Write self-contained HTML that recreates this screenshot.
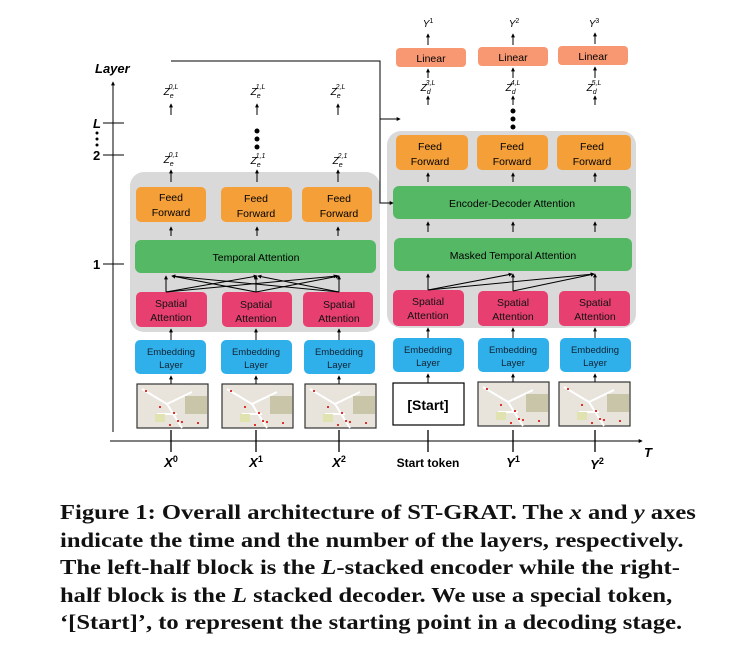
<!DOCTYPE html>
<html><head><style>
body{margin:0;width:733px;height:657px;background:#fff;overflow:hidden;font-family:"Liberation Sans",sans-serif}
svg text{font-family:"Liberation Sans",sans-serif}
.cap{position:absolute;left:60px;top:499px;font-family:"Liberation Serif",serif;font-weight:bold;font-size:21px;line-height:27.6px;color:#111;white-space:nowrap;transform:scaleX(1.17);transform-origin:0 0}
</style></head><body>
<svg width="733" height="490" style="position:absolute;left:0;top:0" font-size="10.5">
<defs><marker id="a" viewBox="0 0 6 6" refX="5" refY="3" markerWidth="4" markerHeight="4" orient="auto"><path d="M0,0L6,3L0,6z" fill="#000"/></marker>
<g id="map"><rect width="71" height="44" fill="#e8e4dc" stroke="#333" stroke-width="1.2"/><path d="M5,5L30,20L45,44M30,20L55,8M20,30L40,30" stroke="#fff" stroke-width="2" fill="none"/><rect x="48" y="12" width="22" height="18" fill="#c9c5a8"/><rect x="18" y="30" width="10" height="8" fill="#e0e3b0"/><g fill="#e03030"><rect x="8" y="6" width="2" height="2"/><rect x="22" y="22" width="2" height="2"/><rect x="36" y="28" width="2" height="2"/><rect x="40" y="36" width="2" height="2"/><rect x="44" y="37" width="2" height="2"/><rect x="32" y="40" width="2" height="2"/><rect x="60" y="38" width="2" height="2"/></g></g></defs>
<rect x="130" y="172" width="250" height="160" rx="14" fill="#d9d9d9"/>
<rect x="387" y="131" width="249" height="197" rx="14" fill="#d9d9d9"/>
<text x="95" y="73" font-size="13" font-weight="bold" font-style="italic" font-family="Liberation Serif">Layer</text>
<line x1="113" y1="432" x2="113" y2="82" stroke="#000" marker-end="url(#a)"/>
<line x1="103" y1="123" x2="124" y2="123" stroke="#000"/><line x1="103" y1="155" x2="124" y2="155" stroke="#000"/><line x1="103" y1="264" x2="124" y2="264" stroke="#000"/>
<g font-family="Liberation Serif" font-weight="bold" font-size="13"><text x="93" y="128" font-style="italic">L</text><text x="93" y="160">2</text><text x="93" y="269">1</text></g>
<g fill="#000"><circle cx="97" cy="133" r="1.5"/><circle cx="97" cy="139" r="1.5"/><circle cx="97" cy="145" r="1.5"/></g>
<line x1="110" y1="441" x2="642" y2="441" stroke="#000" marker-end="url(#a)"/>
<text x="644" y="457" font-size="13" font-weight="bold" font-style="italic" font-family="Liberation Serif">T</text>
<g stroke="#000" stroke-width="1.3"><line x1="171" y1="430" x2="171" y2="452"/><line x1="256" y1="430" x2="256" y2="452"/><line x1="339" y1="430" x2="339" y2="452"/><line x1="428" y1="430" x2="428" y2="452"/><line x1="513" y1="430" x2="513" y2="452"/><line x1="595" y1="430" x2="595" y2="452"/></g>
<g font-family="Liberation Serif" font-weight="bold" font-size="13" text-anchor="middle"><text x="171" y="467" font-style="italic">X<tspan font-size="9" dy="-5" font-style="normal">0</tspan></text><text x="256" y="467" font-style="italic">X<tspan font-size="9" dy="-5" font-style="normal">1</tspan></text><text x="339" y="467" font-style="italic">X<tspan font-size="9" dy="-5" font-style="normal">2</tspan></text><text x="428" y="467" font-family="Liberation Sans" font-size="12">Start token</text><text x="513" y="467" font-style="italic">Y<tspan font-size="9" dy="-5" font-style="normal">1</tspan></text><text x="597" y="469" font-style="italic">Y<tspan font-size="9" dy="-5" font-style="normal">2</tspan></text></g>
<use href="#map" x="137" y="384"/><use href="#map" x="222" y="384"/><use href="#map" x="305" y="384"/>
<use href="#map" x="478" y="382"/><use href="#map" x="559" y="382"/>
<rect x="393" y="383" width="71" height="42" fill="#fff" stroke="#000" stroke-width="1.2"/>
<text x="428" y="410" text-anchor="middle" font-size="14" font-weight="bold">[Start]</text>
<g fill="#2fb0ea"><rect x="135" y="340" width="71" height="34" rx="5"/><rect x="221" y="340" width="71" height="34" rx="5"/><rect x="304" y="340" width="71" height="34" rx="5"/><rect x="393" y="338" width="71" height="34" rx="5"/><rect x="478" y="338" width="71" height="34" rx="5"/><rect x="560" y="338" width="71" height="34" rx="5"/></g>
<g text-anchor="middle" font-size="9.5" fill="#123"><text x="171" y="355">Embedding</text><text x="171" y="368">Layer</text><text x="256" y="355">Embedding</text><text x="256" y="368">Layer</text><text x="339" y="355">Embedding</text><text x="339" y="368">Layer</text><text x="428" y="353">Embedding</text><text x="428" y="366">Layer</text><text x="513" y="353">Embedding</text><text x="513" y="366">Layer</text><text x="595" y="353">Embedding</text><text x="595" y="366">Layer</text></g>
<g fill="#e73f70"><rect x="136" y="292" width="71" height="35" rx="5"/><rect x="222" y="292" width="70" height="35" rx="5"/><rect x="303" y="292" width="70" height="35" rx="5"/><rect x="393" y="290" width="71" height="36" rx="5"/><rect x="478" y="291" width="70" height="35" rx="5"/><rect x="559" y="291" width="71" height="35" rx="5"/></g>
<g text-anchor="middle" font-size="10.5" fill="#111"><text x="171" y="307">Spatial</text><text x="171" y="321">Attention</text><text x="256" y="308">Spatial</text><text x="256" y="322">Attention</text><text x="339" y="308">Spatial</text><text x="339" y="322">Attention</text><text x="428" y="305">Spatial</text><text x="428" y="319">Attention</text><text x="513" y="306">Spatial</text><text x="513" y="320">Attention</text><text x="595" y="306">Spatial</text><text x="595" y="320">Attention</text></g>
<rect x="135" y="240" width="241" height="33" rx="6" fill="#55b865"/><text x="256" y="261" text-anchor="middle" font-size="10.5">Temporal Attention</text>
<rect x="394" y="238" width="238" height="33" rx="6" fill="#55b865"/><text x="513" y="259" text-anchor="middle" font-size="10.5">Masked Temporal Attention</text>
<rect x="393" y="186" width="238" height="33" rx="6" fill="#55b865"/><text x="512" y="207" text-anchor="middle" font-size="10.5">Encoder-Decoder Attention</text>
<g fill="#f59f38"><rect x="136" y="187" width="70" height="35" rx="5"/><rect x="221" y="187" width="71" height="35" rx="5"/><rect x="302" y="187" width="70" height="35" rx="5"/><rect x="396" y="135" width="72" height="35" rx="5"/><rect x="477" y="135" width="71" height="35" rx="5"/><rect x="557" y="135" width="74" height="35" rx="5"/></g>
<g text-anchor="middle" font-size="10.5"><text x="171" y="201">Feed</text><text x="171" y="216">Forward</text><text x="256" y="202">Feed</text><text x="256" y="217">Forward</text><text x="339" y="202">Feed</text><text x="339" y="217">Forward</text><text x="430" y="150">Feed</text><text x="430" y="165">Forward</text><text x="512" y="150">Feed</text><text x="512" y="165">Forward</text><text x="592" y="150">Feed</text><text x="592" y="165">Forward</text></g>
<g fill="#f79872"><rect x="396" y="48" width="70" height="19" rx="4"/><rect x="478" y="47" width="70" height="19" rx="4"/><rect x="558" y="46" width="70" height="19" rx="4"/></g>
<g text-anchor="middle" font-size="10.5"><text x="431" y="62">Linear</text><text x="513" y="61">Linear</text><text x="593" y="60">Linear</text></g>
<g text-anchor="middle" font-size="10" font-style="italic" font-family="Liberation Serif"><text x="428" y="27">Y<tspan font-size="7" dy="-4" font-style="normal">1</tspan></text><text x="514" y="27">Y<tspan font-size="7" dy="-4" font-style="normal">2</tspan></text><text x="594" y="27">Y<tspan font-size="7" dy="-4" font-style="normal">3</tspan></text>
<text x="428" y="91">Z<tspan font-size="7" dy="3">d</tspan><tspan font-size="7" dx="-5" dy="-9">3,L</tspan></text><text x="513" y="91">Z<tspan font-size="7" dy="3">d</tspan><tspan font-size="7" dx="-5" dy="-9">4,L</tspan></text><text x="594" y="91">Z<tspan font-size="7" dy="3">d</tspan><tspan font-size="7" dx="-5" dy="-9">5,L</tspan></text>
<text x="171" y="95">Z<tspan font-size="7" dy="3">e</tspan><tspan font-size="7" dx="-5" dy="-9">0,L</tspan></text><text x="258" y="95">Z<tspan font-size="7" dy="3">e</tspan><tspan font-size="7" dx="-5" dy="-9">1,L</tspan></text><text x="338" y="95">Z<tspan font-size="7" dy="3">e</tspan><tspan font-size="7" dx="-5" dy="-9">2,L</tspan></text>
<text x="171" y="163">Z<tspan font-size="7" dy="3">e</tspan><tspan font-size="7" dx="-5" dy="-9">0,1</tspan></text><text x="258" y="164">Z<tspan font-size="7" dy="3">e</tspan><tspan font-size="7" dx="-5" dy="-9">1,1</tspan></text><text x="340" y="164">Z<tspan font-size="7" dy="3">e</tspan><tspan font-size="7" dx="-5" dy="-9">2,1</tspan></text></g>
<g fill="#000"><circle cx="257" cy="131" r="2.5"/><circle cx="257" cy="139" r="2.5"/><circle cx="257" cy="147" r="2.5"/><circle cx="513" cy="111" r="2.5"/><circle cx="513" cy="119" r="2.5"/><circle cx="513" cy="127" r="2.5"/></g>
<g stroke="#000" stroke-width="1" marker-end="url(#a)" fill="none">
<path d="M171,61H380V203H393"/><path d="M380,119H400"/>
<line x1="171" y1="115" x2="171" y2="104"/><line x1="257" y1="115" x2="257" y2="104"/><line x1="338" y1="115" x2="338" y2="104"/>
<line x1="171" y1="182" x2="171" y2="170"/><line x1="257" y1="182" x2="257" y2="170"/><line x1="338" y1="182" x2="338" y2="170"/>
<line x1="171" y1="236" x2="171" y2="227"/><line x1="257" y1="236" x2="257" y2="227"/><line x1="338" y1="236" x2="338" y2="227"/>
<line x1="171" y1="340" x2="171" y2="329"/><line x1="256" y1="340" x2="256" y2="329"/><line x1="339" y1="340" x2="339" y2="329"/>
<line x1="171" y1="384" x2="171" y2="376"/><line x1="256" y1="384" x2="256" y2="376"/><line x1="339" y1="384" x2="339" y2="376"/>
<line x1="428" y1="383" x2="428" y2="374"/><line x1="513" y1="382" x2="513" y2="374"/><line x1="595" y1="382" x2="595" y2="374"/>
<line x1="428" y1="338" x2="428" y2="328"/><line x1="513" y1="338" x2="513" y2="328"/><line x1="595" y1="338" x2="595" y2="328"/>
<line x1="428" y1="232" x2="428" y2="222"/><line x1="513" y1="232" x2="513" y2="222"/><line x1="595" y1="232" x2="595" y2="222"/>
<line x1="428" y1="182" x2="428" y2="173"/><line x1="513" y1="182" x2="513" y2="173"/><line x1="595" y1="182" x2="595" y2="173"/>
<line x1="428" y1="105" x2="428" y2="96"/><line x1="513" y1="105" x2="513" y2="96"/><line x1="595" y1="105" x2="595" y2="96"/>
<line x1="428" y1="78" x2="428" y2="69"/><line x1="513" y1="78" x2="513" y2="68"/><line x1="595" y1="78" x2="595" y2="67"/>
<line x1="428" y1="45" x2="428" y2="34"/><line x1="513" y1="45" x2="513" y2="34"/><line x1="595" y1="44" x2="595" y2="33"/>
<path d="M166,292V276"/><path d="M166,292L257,276"/><path d="M166,292L337,276"/>
<path d="M256,292V276"/><path d="M256,292L172,276"/><path d="M256,292L339,276"/>
<path d="M339,292V276"/><path d="M339,292L172,276"/><path d="M339,292L258,276"/>
<path d="M428,290V274"/><path d="M428,290L512,274"/><path d="M428,290L594,274"/>
<path d="M513,291V274"/><path d="M513,291L594,274"/><path d="M595,291V274"/>
</g>
</svg>
<div class="cap">Figure 1: Overall architecture of ST-GRAT. The <i>x</i> and <i>y</i> axes<br>indicate the time and the number of the layers, respectively.<br>The left-half block is the <i>L</i>-stacked encoder while the right-<br>half block is the <i>L</i> stacked decoder. We use a special token,<br>‘[Start]’, to represent the starting point in a decoding stage.</div>
</body></html>
